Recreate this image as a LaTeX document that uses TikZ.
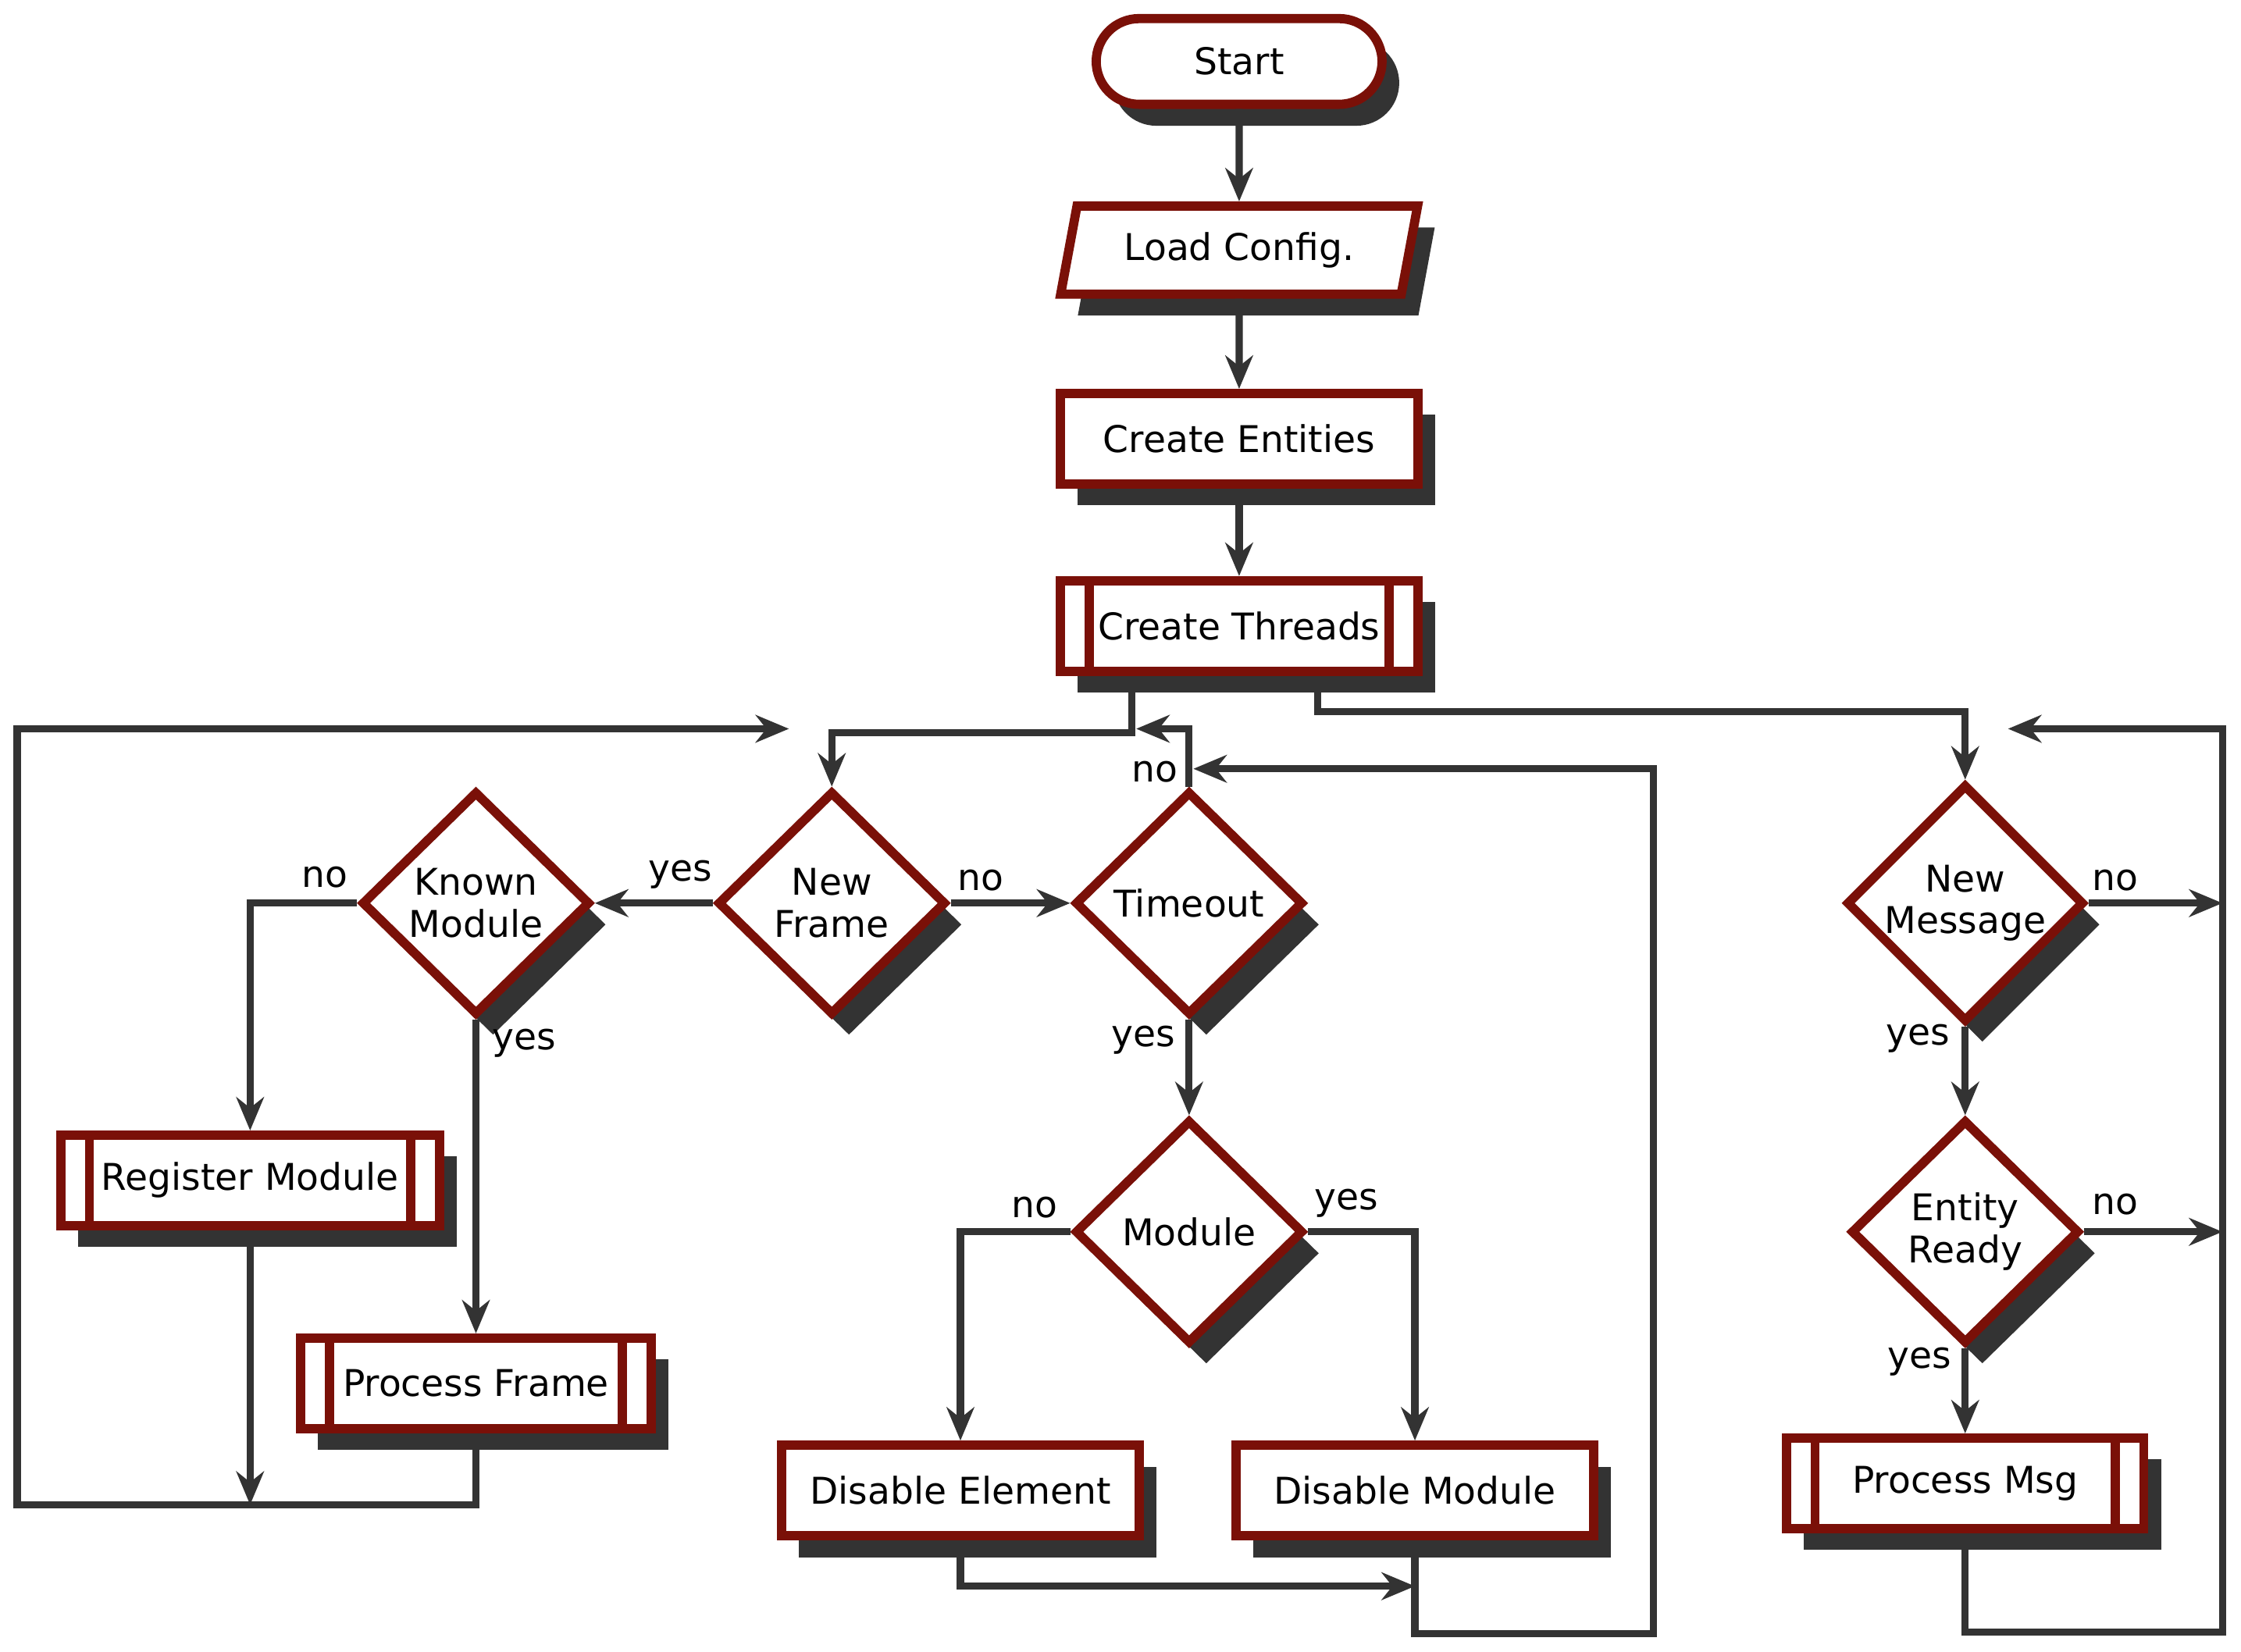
\documentclass[tikz,border=0pt]{standalone}
\usepackage{fontspec}
\setmainfont{DejaVu Sans}
\usetikzlibrary{shapes.geometric,shadows,arrows.meta}
\definecolor{bord}{HTML}{7A1008}
\definecolor{dk}{HTML}{333333}
\begin{document}
\begin{tikzpicture}[x=0.03cm,y=-0.03cm,
  every node/.style={font=\fontsize{22}{25}\selectfont},
  base/.style={draw=bord,line width=5.5pt,fill=white,align=center,inner sep=0pt,
    drop shadow={shadow xshift=0.36cm,shadow yshift=-0.45cm,fill=dk,opacity=1}},
  box/.style={base,rectangle,minimum width=#1*0.03cm,minimum height=1.9cm},
  pp/.style={box=#1,path picture={
    \draw[bord,line width=5.5pt] ([xshift=0.6cm]path picture bounding box.north west) -- ([xshift=0.6cm]path picture bounding box.south west);
    \draw[bord,line width=5.5pt] ([xshift=-0.6cm]path picture bounding box.north east) -- ([xshift=-0.6cm]path picture bounding box.south east);}},
  dia/.style={base,diamond,aspect=1,minimum width=4.8cm,minimum height=4.7cm},
  conn/.style={draw=dk,line width=4.3pt,-{Stealth[length=0.7cm,width=0.58cm]}},
  lab/.style={inner sep=1pt}]
\useasboundingbox (0,0) rectangle (1568,1156);
\node[base,rounded corners=0.9cm,minimum width=6cm,minimum height=1.8cm] (st) at (867,43) {Start};
\node[base,trapezium,trapezium stretches=true,trapezium left angle=72,trapezium right angle=108,minimum width=7.5cm,minimum height=1.85cm] (lc) at (867,175) {Load Config.};
\node[box=250] (ce) at (867,307) {Create Entities};
\node[pp=250] (ct) at (867,438) {Create Threads};
\node[dia] (nf) at (582,632) {New\\Frame};
\node[dia] (km) at (333,632) {Known\\Module};
\node[dia] (to) at (832,632) {Timeout};
\node[dia] (mo) at (832,862) {Module};
\node[dia] (nm) at (1375,632) {New\\Message};
\node[dia] (er) at (1375,862) {Entity\\Ready};
\node[pp=265] (rm) at (175,826) {Register Module};
\node[pp=245] (pf) at (333,968) {Process Frame};
\node[box=250] (de) at (672,1043) {Disable Element};
\node[box=250] (dm) at (990,1043) {Disable Module};
\node[pp=250] (pm) at (1375,1038) {Process Msg};

\draw[conn] (st) -- (lc);
\draw[conn] (lc) -- (ce);
\draw[conn] (ce) -- (ct);
\draw[conn] ([xshift=-2.25cm]ct.south) -- ++(0,40) -| (nf.north);
\draw[conn] (pf.south) -- (333,1053) -- (12,1053) -- (12,510) -- (552,510);
\draw[conn] (rm.south) -- (175,1053);
\draw[conn] (to.north) -- (832,510) -- (795,510);
\draw[conn] (dm.south) -- (990,1143) -- (1157,1143) -- (1157,538) -- (835,538);
\draw[conn] (de.south) -- (672,1110) -- (990,1110);
\draw[conn] (nf.west) -- (km.east);
\draw[conn] (nf.east) -- (to.west);
\draw[conn] (km.west) -| (rm.north);
\draw[conn] (km.south) -- (pf.north);
\draw[conn] (to.south) -- (mo.north);
\draw[conn] (mo.west) -| (de.north);
\draw[conn] (mo.east) -| (dm.north);
\draw[conn] ([xshift=1.65cm]ct.south) |- (1375,498) -- (nm.north);
\draw[conn] (nm.east) -- (1555,632);
\draw[conn] (nm.south) -- (er.north);
\draw[conn] (er.east) -- (1555,862);
\draw[conn] (er.south) -- (pm.north);
\draw[conn] (pm.south) -- (1375,1142) -- (1555,1142) -- (1555,510) -- (1405,510);

\node[lab] (l1) at (476,612) {yes};
\node[lab] (l2) at (686,616) {no};
\node[lab] (l3) at (227,614) {no};
\node[lab] (l4) at (367,730) {yes};
\node[lab] (l5) at (808,540) {no};
\node[lab] (l6) at (800,728) {yes};
\node[lab] (l7) at (724,845) {no};
\node[lab] (l8) at (942,842) {yes};
\node[lab] (l9) at (1480,616) {no};
\node[lab] (l10) at (1342,727) {yes};
\node[lab] (l11) at (1480,843) {no};
\node[lab] (l12) at (1343,953) {yes};
\end{tikzpicture}
\end{document}
